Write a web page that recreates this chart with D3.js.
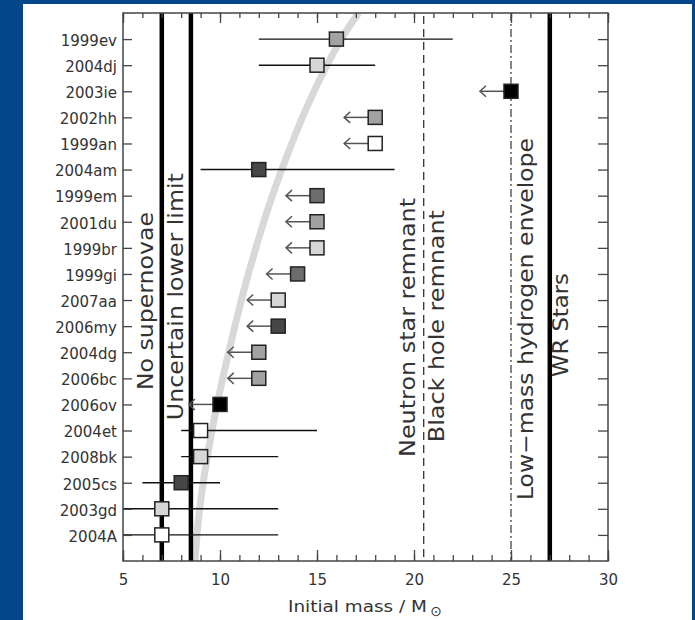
<!DOCTYPE html>
<html><head><meta charset="utf-8">
<script src="https://cdn.jsdelivr.net/npm/d3@7"></script>
<style>body{margin:0;padding:0;overflow:hidden;background:#fff}svg{display:block}</style>
</head><body><div id="chart"></div>
<script>
// ---------- data ----------
const names = ["1999ev","2004dj","2003ie","2002hh","1999an","2004am","1999em","2001du","1999br","1999gi","2007aa","2006my","2004dg","2006bc","2006ov","2004et","2008bk","2005cs","2003gd","2004A"];
const masses = [16,15,25,18,18,12,15,15,15,14,13,13,12,12,10,9,9,8,7,7];
const errLow  = [12,12,null,null,null,9,null,null,null,null,null,null,null,null,null,8,8,6,5,5];
const errHigh = [22,18,null,null,null,19,null,null,null,null,null,null,null,null,null,15,13,10,13,13];
const isUpperLimit = [false,false,true,true,true,false,true,true,true,true,true,true,true,true,true,false,false,false,false,false];
const shades = ["medium","light","black","medium","white","darkest","dark","medium","light","dark","light","darkest","medium","medium","black","white","light","darkest","light","white"];
const xTicks = [5,10,15,20,25,30];
// grey band (mass, row position from bottom axis)
const bandMass = [8.70,8.95,9.35,9.85,10.45,11.10,11.85,12.70,13.70,14.85,16.25,17.15];
const bandPos  = [0,2,4,6,8,10,12,14,16,18,20,21];
// vertical boundaries
const boundMass = [7,8.5,20.5,25,27];
const boundStyle = ["thick","thick","dash","dashdot","thick"];
// rotated labels
const labelText = ["No supernovae","Uncertain lower limit","Neutron star remnant","Black hole remnant","Low\u2212mass hydrogen envelope","WR Stars"];
const labelMass = [6.56,8.11,20.05,21.55,26.15,27.95];   // baseline position (mass units)
const labelPos  = [9.96,10.13,8.95,9.0,9.27,9.04];       // centre (row units)
const labelLen  = [178,247,259,232,362,104];

// ---------- styles ----------
const fills = {black:"#000",darkest:"#474747",dark:"#6c6c6c",medium:"#a2a2a2",light:"#d6d6d6",white:"#fff"};
const W=695,H=620;
const L=123,R=608,T=13,B=561;

const svg = d3.select("#chart").append("svg").attr("width",W).attr("height",H);
svg.append("rect").attr("width",W).attr("height",H).attr("fill","#03478a");
svg.append("rect").attr("x",23).attr("y",4).attr("width",669).attr("height",H-4).attr("fill","#fff");

const x = d3.scaleLinear().domain([5,30]).range([L,R]);
const y = d3.scaleLinear().domain([0,21]).range([B,T]);
const rowPos = i => names.length - i; // top row = 20

svg.append("clipPath").attr("id","clip").append("rect").attr("x",L).attr("y",T).attr("width",R-L).attr("height",B-T);
const g = svg.append("g").attr("clip-path","url(#clip)");

// grey band
const band = bandMass.map((m,i)=>[m,bandPos[i]]);
g.append("path").datum(band)
  .attr("d", d3.line().x(d=>x(d[0])).y(d=>y(d[1])).curve(d3.curveNatural))
  .attr("fill","none").attr("stroke","#d8d8d8").attr("stroke-width",7);

// vertical boundaries
boundMass.forEach((m,i)=>{
  const st = boundStyle[i];
  const ln = g.append("line").attr("x1",x(m)).attr("x2",x(m)).attr("y1",T).attr("y2",B);
  if(st==="thick") ln.attr("stroke","#000").attr("stroke-width",4.5);
  else if(st==="dash") ln.attr("stroke","#333").attr("stroke-width",1.3).attr("stroke-dasharray","8,5").attr("stroke-dashoffset",-3);
  else ln.attr("stroke","#333").attr("stroke-width",1.2).attr("stroke-dasharray","8,3,2,3");
});

// error bars
names.forEach((n,i)=>{
  if(errLow[i]!==null){
    g.append("line").attr("x1",x(errLow[i])).attr("x2",x(errHigh[i]))
      .attr("y1",y(rowPos(i))).attr("y2",y(rowPos(i)))
      .attr("stroke","#111").attr("stroke-width",1.4);
  }
});
// upper-limit arrows
const arrowLen = 1.6;
names.forEach((n,i)=>{
  if(isUpperLimit[i]){
    const yy = y(rowPos(i)), x0 = x(masses[i]), x1 = x(masses[i]-arrowLen);
    g.append("line").attr("x1",x0).attr("x2",x1).attr("y1",yy).attr("y2",yy)
      .attr("stroke","#555").attr("stroke-width",1.5);
    g.append("path").attr("d",`M${x1+6},${yy-5.5}L${x1},${yy}L${x1+6},${yy+5.5}`)
      .attr("fill","none").attr("stroke","#555").attr("stroke-width",1.5);
  }
});
// squares
const s=14;
g.selectAll("rect.pt").data(names).enter().append("rect").attr("class","pt")
  .attr("x",(d,i)=>x(masses[i])-s/2).attr("y",(d,i)=>y(rowPos(i))-s/2)
  .attr("width",s).attr("height",s)
  .attr("fill",(d,i)=>fills[shades[i]]).attr("stroke","#222").attr("stroke-width",1.5);

// rotated labels
labelText.forEach((t,i)=>{
  svg.append("text").attr("transform",`translate(${x(labelMass[i])},${y(labelPos[i])}) rotate(-90)`)
    .attr("text-anchor","middle").attr("font-family","DejaVu Sans").attr("font-size",21)
    .attr("fill","#333").attr("textLength",labelLen[i]).attr("lengthAdjust","spacingAndGlyphs")
    .text(t);
});

// axes
const font = "DejaVu Sans";
function styleAxis(sel){
  sel.select(".domain").remove();
  sel.selectAll("line").attr("stroke","#444").attr("stroke-width",1.3);
  sel.selectAll("text").attr("font-family",font).attr("font-size",15).attr("fill","#333");
}
const minor = d3.range(5,31,1);
svg.append("g").attr("transform",`translate(0,${B})`).call(d3.axisBottom(x).tickValues(minor).tickSize(-6).tickFormat("")).call(styleAxis);
svg.append("g").attr("transform",`translate(0,${B})`).call(d3.axisBottom(x).tickValues(xTicks).tickSize(-11).tickPadding(13).tickFormat(d3.format("d"))).call(styleAxis);
svg.append("g").attr("transform",`translate(0,${T})`).call(d3.axisTop(x).tickValues(minor).tickSize(-5).tickFormat("")).call(styleAxis);
svg.append("g").attr("transform",`translate(0,${T})`).call(d3.axisTop(x).tickValues(xTicks).tickSize(-10).tickFormat("")).call(styleAxis);
const rows = names.map((n,i)=>rowPos(i));
svg.append("g").attr("transform",`translate(${L},0)`).call(d3.axisLeft(y).tickValues(rows).tickSize(-9).tickPadding(6).tickFormat(v=>names[names.length-v])).call(styleAxis)
  .selectAll("text").attr("dy","0.42em");
svg.append("g").attr("transform",`translate(${R},0)`).call(d3.axisRight(y).tickValues(rows).tickSize(-10).tickFormat("")).call(styleAxis);

// frame
svg.append("rect").attr("x",L).attr("y",T).attr("width",R-L).attr("height",B-T)
  .attr("fill","none").attr("stroke","#444").attr("stroke-width",1.5);

// x-axis title
svg.append("text").attr("x",288).attr("y",612).attr("text-anchor","start")
  .attr("font-family",font).attr("font-size",16).attr("fill","#333")
  .attr("textLength",139).attr("lengthAdjust","spacingAndGlyphs")
  .text("Initial mass / M");
svg.append("text").attr("x",436).attr("y",616).attr("text-anchor","middle")
  .attr("font-family",font).attr("font-size",14).attr("fill","#333")
  .text("\u2299");
</script></body></html>
